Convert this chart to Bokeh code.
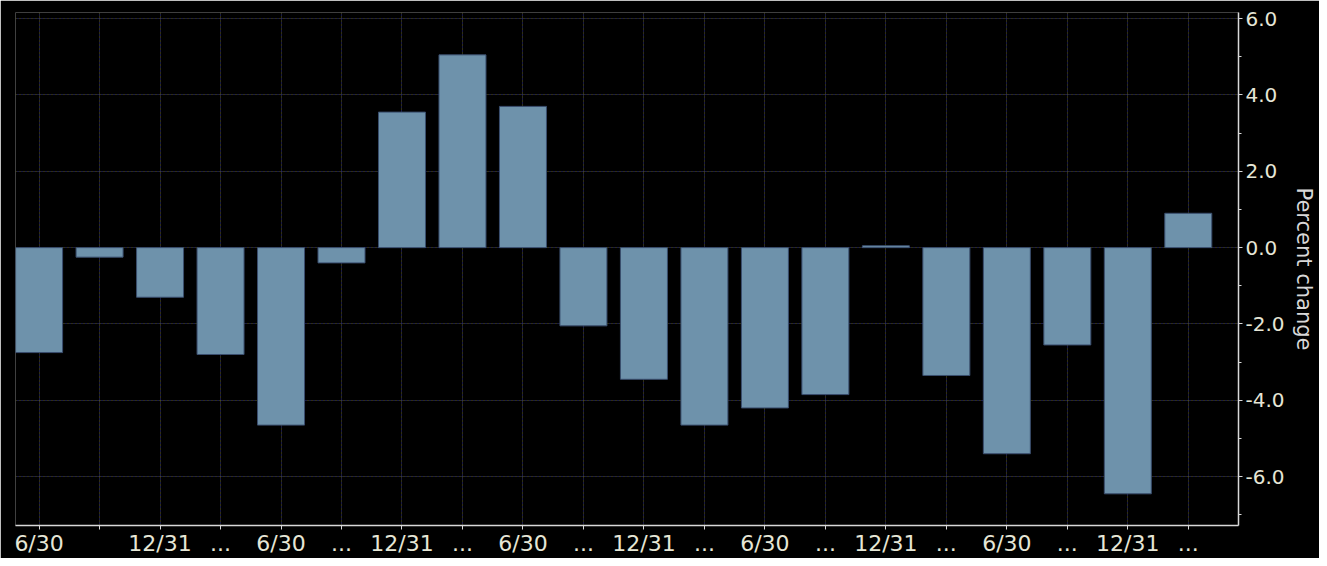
from bokeh.plotting import figure
from bokeh.models import FixedTicker, Range1d, Grid, ColumnDataSource
from bokeh.embed import file_html
from bokeh.resources import INLINE

# Data
tick_labels = ["6/30", "", "12/31", "...", "6/30", "...", "12/31", "...", "6/30", "...",
               "12/31", "...", "6/30", "...", "12/31", "...", "6/30", "...", "12/31", "..."]
values = [-2.75, -0.25, -1.3, -2.8, -4.65, -0.4, 3.55, 5.05, 3.7, -2.05,
          -3.45, -4.65, -4.2, -3.85, 0.05, -3.35, -5.4, -2.55, -6.45, 0.9]
y_major = [-6, -4, -2, 0, 2, 4, 6]
y_minor = [-7, -5, -3, -1, 1, 3, 5]

positions = list(range(len(values)))
src = ColumnDataSource(dict(x=positions, top=values))

p = figure(width=1319, height=558, output_backend="svg", toolbar_location=None,
           y_axis_location="right",
           x_range=Range1d(-0.39, 19.83), y_range=Range1d(-7.28, 6.16),
           background_fill_color="black", border_fill_color="black",
           min_border_left=15, min_border_right=81, min_border_top=12, min_border_bottom=27)
p.outline_line_color = None

# grids: alternating olive / blue dotted
p.xgrid.visible = False
p.ygrid.visible = False
for dim, col, off in [(0, "#60602a", 0), (0, "#34348a", 2), (1, "#60602a", 0), (1, "#34348a", 2)]:
    ticker = FixedTicker(ticks=positions) if dim == 0 else FixedTicker(ticks=y_major)
    g = Grid(dimension=dim, ticker=ticker, grid_line_color=col, grid_line_width=1,
             grid_line_dash="1 3", grid_line_dash_offset=off)
    p.add_layout(g)

p.vbar(x="x", top="top", bottom=0, width=0.777, source=src,
       fill_color="#6e92ab", line_color="#3a4e6e", line_width=1)

# x axis
xa = p.xaxis[0]
xa.ticker = FixedTicker(ticks=positions)
xa.major_label_overrides = {i: lab for i, lab in enumerate(tick_labels)}
xa.axis_line_color = "#d8d8d8"
xa.axis_line_width = 1.5
xa.major_tick_line_color = "#d8d8d8"
xa.major_tick_out = 4
xa.major_tick_in = 0
xa.minor_tick_line_color = None
xa.major_label_standoff = 1
xa.major_label_text_color = "#e6e6d6"
xa.major_label_text_font = "DejaVu Sans"
xa.major_label_text_font_size = "22px"

# y axis (right)
ya = p.yaxis[0]
ya.ticker = FixedTicker(ticks=y_major, minor_ticks=y_minor)
ya.major_label_overrides = {v: f"{v:.1f}" for v in y_major}
ya.axis_line_color = "#d8d8d8"
ya.axis_line_width = 1.5
ya.major_tick_line_color = "#d8d8d8"
ya.major_tick_out = 4
ya.major_tick_in = 0
ya.minor_tick_line_color = "#d8d8d8"
ya.minor_tick_out = 3
ya.minor_tick_in = 0
ya.major_label_standoff = 3
ya.major_label_text_color = "#e6e6d6"
ya.major_label_text_font = "DejaVu Sans"
ya.major_label_text_font_size = "20px"
ya.axis_label = "Percent change"
ya.axis_label_text_color = "#d8d8d8"
ya.axis_label_text_font = "DejaVu Sans"
ya.axis_label_text_font_size = "21px"
ya.axis_label_text_font_style = "normal"
ya.axis_label_standoff = 4

open("out.html", "w").write(file_html(p, INLINE))
